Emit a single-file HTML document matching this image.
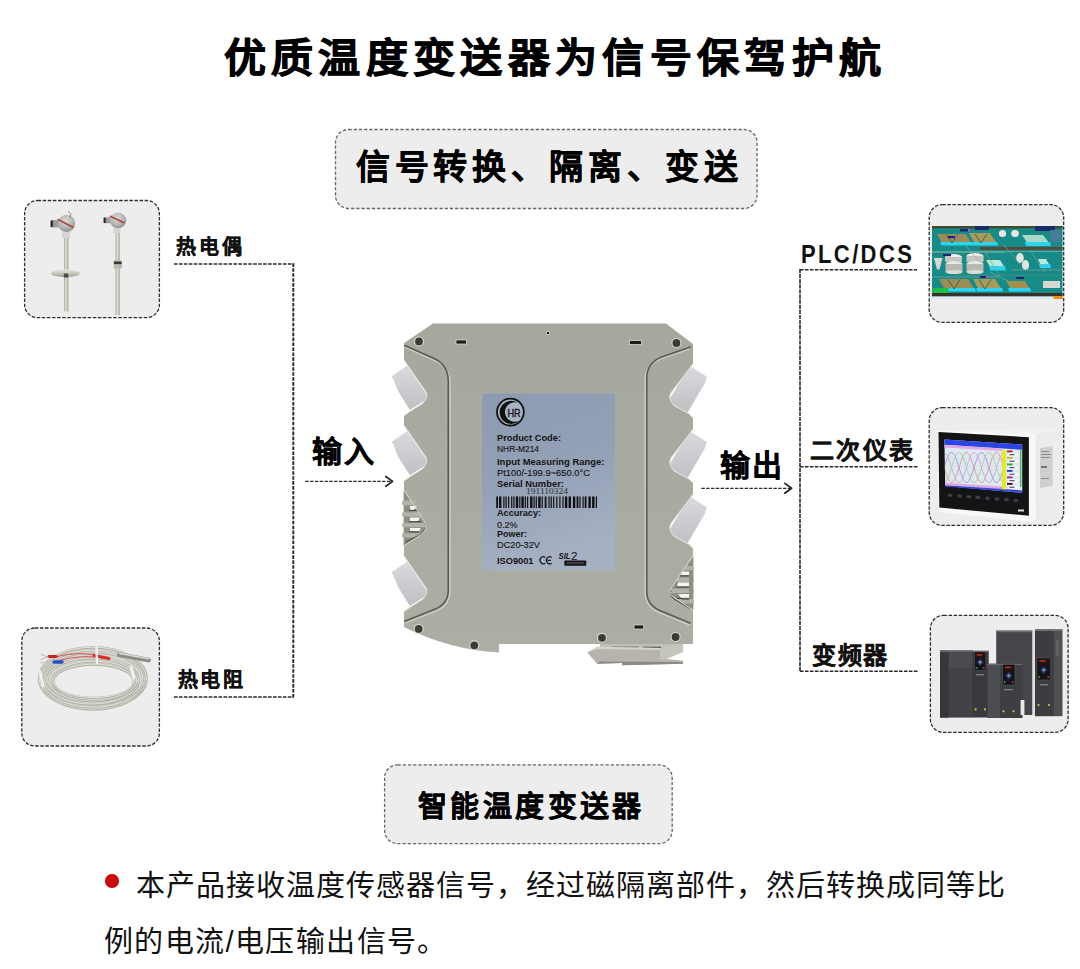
<!DOCTYPE html>
<html lang="zh-CN">
<head>
<meta charset="utf-8">
<style>
html,body{margin:0;padding:0;background:#fff;}
body{width:1080px;height:969px;position:relative;overflow:hidden;font-family:"Liberation Sans",sans-serif;color:#000;}
.t{position:absolute;white-space:nowrap;line-height:1;}
#g{position:absolute;left:0;top:0;}
.lb{font-size:20px;font-weight:700;letter-spacing:2.65px;color:#111;-webkit-text-stroke:0.3px #111;}
.lr{font-size:24px;font-weight:700;letter-spacing:1.7px;color:#111;-webkit-text-stroke:0.3px #111;}
</style>
</head>
<body>
<svg id="g" width="1080" height="969" viewBox="0 0 1080 969">
  <!-- BOXES -->
  <g fill="#ededed" stroke="#666" stroke-width="1.3" stroke-dasharray="3.2 2">
    <rect x="335.5" y="129.5" width="421.5" height="79" rx="13"/>
    <rect x="384.6" y="764.8" width="287.6" height="78.8" rx="13"/>
  </g>
  <g fill="#ededed" stroke="#2e2e2e" stroke-width="1.3" stroke-dasharray="3.5 1.6">
    <rect x="24.6" y="200.5" width="134.8" height="117.2" rx="13"/>
    <rect x="21.8" y="628" width="137.6" height="118" rx="13"/>
    <rect x="929.2" y="204.6" width="134.5" height="117.8" rx="13"/>
    <rect x="929.2" y="407.6" width="134.5" height="117.8" rx="13"/>
    <rect x="930.4" y="615.4" width="137.7" height="117" rx="13"/>
  </g>
  <defs>
    <linearGradient id="stem" x1="0" y1="0" x2="1" y2="0">
      <stop offset="0" stop-color="#a9a99b"/>
      <stop offset="0.45" stop-color="#e2e2d8"/>
      <stop offset="1" stop-color="#9e9e92"/>
    </linearGradient>
    <radialGradient id="head" cx="0.45" cy="0.35" r="0.7">
      <stop offset="0" stop-color="#d9dbdb"/>
      <stop offset="0.6" stop-color="#b3b5b5"/>
      <stop offset="1" stop-color="#8c8e8e"/>
    </radialGradient>
    <linearGradient id="flange" x1="0" y1="0" x2="0" y2="1">
      <stop offset="0" stop-color="#e4e4dc"/>
      <stop offset="0.55" stop-color="#c4c4ba"/>
      <stop offset="1" stop-color="#9c9c92"/>
    </linearGradient>
  </defs>
  <!-- THERMOCOUPLES -->
  <g id="tc">
    <rect x="64" y="236" width="4.4" height="75.5" fill="url(#stem)"/>
    <ellipse cx="65.5" cy="273.4" rx="14.5" ry="3.8" fill="url(#flange)"/>
    <rect x="63.8" y="273.5" width="4.4" height="4" fill="#4a4a44"/>
    <rect x="62" y="232" width="8.4" height="6" fill="#d6d6d2"/>
    <rect x="51" y="220" width="8" height="7.5" rx="1.5" fill="#9c9e9e"/>
    <rect x="50.6" y="220.5" width="2.2" height="6.5" fill="#222"/>
    <ellipse cx="66.5" cy="223.4" rx="8.6" ry="8.6" fill="url(#head)"/>
    <path d="M57.8 218.4 L73.8 226.8 L73.2 228.3 L57.3 220 Z" fill="#b53a35"/>
    <path d="M68 211 L71 214 L70 218" stroke="#9a8a70" stroke-width="1" fill="none"/>
    <rect x="115.5" y="232" width="4.2" height="83" fill="url(#stem)"/>
    <rect x="113.6" y="260.5" width="8.4" height="8" fill="#b9b9ae"/>
    <rect x="114" y="261.5" width="7.6" height="2.6" fill="#3a3a34"/>
    <rect x="113.3" y="227.5" width="7.3" height="5.5" fill="#d6d6d2"/>
    <rect x="103.8" y="217.3" width="8.2" height="6" rx="1.2" fill="#9c9e9e"/>
    <rect x="103.6" y="217.6" width="2" height="5.4" fill="#222"/>
    <ellipse cx="118.1" cy="220.5" rx="8.2" ry="7.8" fill="url(#head)"/>
    <path d="M110 215.3 L124.8 222.3 L124.3 223.7 L109.6 216.8 Z" fill="#b53a35"/>
  </g>
  <!-- RTD -->
  <g id="rtd" fill="none" stroke-linecap="round">
    <path fill="#d8d8d0" fill-rule="evenodd" d="M38.7 678.2 A54.8 32.2 0 1 0 148.3 678.2 A54.8 32.2 0 1 0 38.7 678.2 Z M53.4 681.5 A39.3 15.5 0 1 0 132 681.5 A39.3 15.5 0 1 0 53.4 681.5 Z"/>
    <ellipse cx="92.7" cy="678.5" rx="53.7" ry="31.0" stroke="#b3b3aa" stroke-width="2.3"/><ellipse cx="92.7" cy="678.1" rx="53.7" ry="31.0" stroke="#e9e9e4" stroke-width="0.9"/><ellipse cx="92.9" cy="679.1" rx="51.5" ry="28.6" stroke="#b3b3aa" stroke-width="2.3"/><ellipse cx="92.9" cy="678.7" rx="51.5" ry="28.6" stroke="#e9e9e4" stroke-width="0.9"/><ellipse cx="93.6" cy="678.5" rx="49.3" ry="26.2" stroke="#b3b3aa" stroke-width="2.3"/><ellipse cx="93.6" cy="678.1" rx="49.3" ry="26.2" stroke="#e9e9e4" stroke-width="0.9"/><ellipse cx="91.6" cy="680.5" rx="47.0" ry="23.9" stroke="#b3b3aa" stroke-width="2.3"/><ellipse cx="91.6" cy="680.1" rx="47.0" ry="23.9" stroke="#e9e9e4" stroke-width="0.9"/><ellipse cx="92.3" cy="679.8" rx="44.8" ry="21.5" stroke="#b3b3aa" stroke-width="2.3"/><ellipse cx="92.3" cy="679.4" rx="44.8" ry="21.5" stroke="#e9e9e4" stroke-width="0.9"/><ellipse cx="94.4" cy="680.7" rx="42.6" ry="19.1" stroke="#b3b3aa" stroke-width="2.3"/><ellipse cx="94.4" cy="680.3" rx="42.6" ry="19.1" stroke="#e9e9e4" stroke-width="0.9"/><ellipse cx="93.8" cy="681.2" rx="40.4" ry="16.7" stroke="#b3b3aa" stroke-width="2.3"/><ellipse cx="93.8" cy="680.8" rx="40.4" ry="16.7" stroke="#e9e9e4" stroke-width="0.9"/>
    <path d="M55 657 Q80 650 104 657" stroke="#d84a4a" stroke-width="0.9"/>
    <path d="M57 661 Q85 653 108 659" stroke="#d84a4a" stroke-width="0.9"/>
    <path d="M94 655.5 L109 658.5" stroke="#e02a2a" stroke-width="3"/>
    <path d="M119.5 654.6 L148.5 660" stroke="#8a8a84" stroke-width="4.8"/>
    <path d="M119.5 653.4 L148.5 658.8" stroke="#d8d8d0" stroke-width="1.6"/>
    <path d="M96.5 647 L97 663" stroke="#f0f0ec" stroke-width="2.4"/>
    <path d="M40 672 L43 686" stroke="#f0f0ec" stroke-width="3"/>
    <path d="M131 667 L134 678" stroke="#f0f0ec" stroke-width="3"/>
    <path d="M49 656.5 L56 656.5" stroke="#d41e1e" stroke-width="3.2"/>
    <path d="M54 662 L62 662" stroke="#2156c8" stroke-width="3.4"/>
    <path d="M41 654.5 L48 657 M41 659.5 L48 657" stroke="#b8b8b0" stroke-width="0.9"/>
    <path d="M40 663 L52 661" stroke="#bdbdb5" stroke-width="0.9"/>
  </g>
  <!-- PLC SCREEN -->
  <g id="plc">
    <rect x="932" y="226" width="130.5" height="73" fill="#168b87"/>
    <rect x="932" y="226" width="130.5" height="2.4" fill="#3f4a2a"/>
    <rect x="975" y="226" width="14" height="4" fill="#1a2a6a"/>
    <rect x="1035" y="226" width="20" height="5" fill="#1a2a6a"/>
    <!-- row1 -->
    <path d="M937 234 L966 234 L972 244.5 L943 244.5 Z" fill="#9b8d55"/>
    <path d="M940 242 L972 242 L973.5 245.5 L941.5 245.5 Z" fill="#2fd2f0"/>
    <path d="M969 233 L990 233 L997 244 L975 244 Z" fill="#a89a5a"/>
    <path d="M972 242 L997 242 L998.5 245.5 L973.5 245.5 Z" fill="#2fd2f0"/>
    <ellipse cx="1002.5" cy="233.5" rx="3.6" ry="3.6" fill="#e6e6e2"/>
    <ellipse cx="1015" cy="233.5" rx="3.8" ry="3.6" fill="#e6e6e2"/>
    <path d="M1022 235 L1043 235 L1050 244 L1028 244 Z" fill="#a9d9c8"/>
    <path d="M1025 242 L1050 242 L1051 246 L1026 246 Z" fill="#2fd2f0"/>
    <rect x="1050" y="230" width="10" height="12" fill="#4a7a9a"/>
    <rect x="980" y="247" width="82.5" height="2.8" fill="#5b4736"/>
    <rect x="932" y="251" width="130.5" height="1" fill="#5aa8a0"/>
    <!-- row2 -->
    <path d="M934 258 L942.5 258 L939.5 269.5 L937 269.5 Z" fill="#d8d8d4"/>
    <ellipse cx="953.5" cy="257" rx="8.5" ry="3" fill="#eeeeea"/>
    <rect x="945" y="257" width="17" height="5" fill="#c6c6c0"/>
    <ellipse cx="954" cy="264" rx="8.5" ry="3" fill="#e9e9e4"/>
    <rect x="945.5" y="264" width="17" height="8" fill="#b9b9b2"/>
    <ellipse cx="954" cy="272" rx="8.5" ry="2" fill="#dcdcd6"/>
    <ellipse cx="975" cy="256" rx="8.5" ry="3" fill="#eeeeea"/>
    <rect x="966.5" y="256" width="17" height="6" fill="#c6c6c0"/>
    <ellipse cx="975" cy="264" rx="8.5" ry="3" fill="#e9e9e4"/>
    <rect x="966.5" y="264" width="17" height="8" fill="#b9b9b2"/>
    <ellipse cx="975" cy="272" rx="8.5" ry="2" fill="#dcdcd6"/>
    <path d="M986 260 L1000 260 L1005 268 L991 268 Z" fill="#b8e8d8"/>
    <path d="M989 266 L1005 266 L1006 270.5 L990 270.5 Z" fill="#2fd2f0"/>
    <ellipse cx="1020" cy="258" rx="3.8" ry="5" fill="#e4e4de"/>
    <ellipse cx="1025.5" cy="265" rx="3.6" ry="5" fill="#e4e4de"/>
    <path d="M1038 259 L1046 259 L1050 266 L1041 266 Z" fill="#b8e8d8"/>
    <path d="M1039 264 L1050 264 L1051 268 L1040 268 Z" fill="#2fd2f0"/>
    <path d="M955 275 L1062 275" stroke="#3f8f7a" stroke-width="1"/>
    <!-- row3 -->
    <path d="M939 279 L968 279 L975 290 L945 290 Z" fill="#9b8d55"/>
    <path d="M941 288 L975 288 L976 291.5 L942 291.5 Z" fill="#2fd2f0"/>
    <path d="M973 279 L995 279 L1002 290 L979 290 Z" fill="#a89a5a"/>
    <path d="M976 288 L1002 288 L1003 291.5 L977 291.5 Z" fill="#2fd2f0"/>
    <path d="M1006 281 L1025 281 L1030 289 L1011 289 Z" fill="#a39048"/>
    <path d="M1008 288 L1030 288 L1031 291.5 L1009 291.5 Z" fill="#2fd2f0"/>
    <rect x="1043" y="281" width="17" height="7" fill="#d6d6d0"/>
    <g stroke="#7fa59a" stroke-width="0.7" fill="none">
      <path d="M932 252.5 H1005"/>
      <path d="M966 246 L980 262 M1003 244 L1020 264 M985 252 L1000 276 M1030 250 L1045 272 M990 272 L1008 281"/>
      <path d="M1012 270 H1062 M932 277 H1000"/>
    </g>
    <g stroke="#3a6a40" stroke-width="1" fill="none">
      <path d="M946 234.5 L952 243 L958 234.5 M975 234 L981 243 L987 234"/>
      <path d="M948 279.5 L954 289 L960 279.5 M979 279.5 L985 289 L991 279.5"/>
    </g>
    <g fill="#20207a">
      <rect x="960" y="229" width="8" height="2.5"/>
      <rect x="948" y="236" width="7" height="2.2"/>
      <rect x="943" y="254" width="8" height="2.2"/>
      <rect x="980" y="276" width="6" height="2"/>
      <rect x="1016" y="277" width="8" height="2"/>
    </g>
    <g fill="#9a66d8">
      <rect x="968" y="229" width="2" height="2.5"/>
      <rect x="955" y="236" width="2" height="2.2"/>
      <rect x="986" y="276" width="2" height="2"/>
    </g>
    <rect x="932.5" y="288" width="16" height="5" fill="#1dbd4a"/>
    <rect x="932" y="293" width="130.5" height="3.4" fill="#3a302a"/>
    <rect x="932" y="296.4" width="130.5" height="2.6" fill="#dfe8ee"/>
    <rect x="1053.5" y="296" width="9" height="3" fill="#f08a10"/>
  </g>
  <!-- RECORDER -->
  <g id="rec">
    <clipPath id="scr"><path d="M944.4 446 L1002 450 L1002 488 L945.2 484.5 Z"/></clipPath>
    <path d="M968.9 429.8 L1054.8 428.8 L1054.8 430.5 L1035.6 434.3 L937.8 430.5 Z" fill="#f2f2f0"/>
    <path d="M1035.6 434.3 L1054.8 430.5 L1054.8 505.4 L1035.6 522.4 Z" fill="#ececea"/>
    <path d="M1040 448 L1052.6 446.3 L1052.6 486 L1040 488 Z" fill="#cfcfcf"/>
    <g fill="#777"><rect x="1041" y="451" width="8" height="0.8"/><rect x="1041" y="454" width="10" height="0.8"/><rect x="1041" y="457" width="9" height="0.8"/><rect x="1041" y="466" width="6" height="2"/><rect x="1041" y="478" width="8" height="0.8"/></g>
    <path d="M937.8 430.5 L1035.6 434.3 L1035.6 522.4 L938.5 512 Z" fill="#f8f8f6"/>
    <path d="M938.5 432 L1028.9 437.2 L1028.9 515.7 L939.3 507.6 Z" fill="#131416"/>
    <path d="M944.4 439.4 L1022.2 444.6 L1022.2 492.8 L945.2 486.1 Z" fill="#dfe8ef"/>
    <path d="M944.4 439.4 L1022.2 444.6 L1022.2 449.8 L944.5 444.8 Z" fill="#2a44e6"/>
    <path d="M944.5 444.8 L1002 448.5 L1002 451 L944.5 447.4 Z" fill="#e2a6e6"/>
    <path d="M945.1 482.8 L1002 486.6 L1002 489.3 L945.1 485.3 Z" fill="#e2a6e6"/>
    <path d="M945.2 485.3 L1022.2 490.4 L1022.2 492.8 L945.2 486.6 Z" fill="#3048d0"/>
    <g clip-path="url(#scr)" fill="none" stroke-width="0.8">
      <path d="M944.0 467.5 L944.5 469.1 L945.0 470.6 L945.5 472.1 L946.0 473.6 L946.5 475.0 L947.0 476.3 L947.5 477.5 L948.0 478.6 L948.5 479.6 L949.0 480.5 L949.5 481.2 L950.0 481.8 L950.5 482.2 L951.0 482.4 L951.5 482.5 L952.0 482.4 L952.5 482.2 L953.0 481.8 L953.5 481.2 L954.0 480.5 L954.5 479.6 L955.0 478.6 L955.5 477.5 L956.0 476.3 L956.5 475.0 L957.0 473.6 L957.5 472.1 L958.0 470.6 L958.5 469.1 L959.0 467.5 L959.5 465.9 L960.0 464.4 L960.5 462.9 L961.0 461.4 L961.5 460.0 L962.0 458.7 L962.5 457.5 L963.0 456.4 L963.5 455.4 L964.0 454.5 L964.5 453.8 L965.0 453.2 L965.5 452.8 L966.0 452.6 L966.5 452.5 L967.0 452.6 L967.5 452.8 L968.0 453.2 L968.5 453.8 L969.0 454.5 L969.5 455.4 L970.0 456.4 L970.5 457.5 L971.0 458.7 L971.5 460.0 L972.0 461.4 L972.5 462.9 L973.0 464.4 L973.5 465.9 L974.0 467.5 L974.5 469.1 L975.0 470.6 L975.5 472.1 L976.0 473.6 L976.5 475.0 L977.0 476.3 L977.5 477.5 L978.0 478.6 L978.5 479.6 L979.0 480.5 L979.5 481.2 L980.0 481.8 L980.5 482.2 L981.0 482.4 L981.5 482.5 L982.0 482.4 L982.5 482.2 L983.0 481.8 L983.5 481.2 L984.0 480.5 L984.5 479.6 L985.0 478.6 L985.5 477.5 L986.0 476.3 L986.5 475.0 L987.0 473.6 L987.5 472.1 L988.0 470.6 L988.5 469.1 L989.0 467.5 L989.5 465.9 L990.0 464.4 L990.5 462.9 L991.0 461.4 L991.5 460.0 L992.0 458.7 L992.5 457.5 L993.0 456.4 L993.5 455.4 L994.0 454.5 L994.5 453.8 L995.0 453.2 L995.5 452.8 L996.0 452.6 L996.5 452.5 L997.0 452.6 L997.5 452.8 L998.0 453.2 L998.5 453.8 L999.0 454.5 L999.5 455.4 L1000.0 456.4 L1000.5 457.5 L1001.0 458.7 L1001.5 460.0 L1002.0 461.4 L1002.5 462.9 L1003.0 464.4 L1003.5 465.9 L1004.0 467.5" stroke="#d98a8a"/>
      <path d="M944.0 467.5 L944.5 465.9 L945.0 464.4 L945.5 462.9 L946.0 461.4 L946.5 460.0 L947.0 458.7 L947.5 457.5 L948.0 456.4 L948.5 455.4 L949.0 454.5 L949.5 453.8 L950.0 453.2 L950.5 452.8 L951.0 452.6 L951.5 452.5 L952.0 452.6 L952.5 452.8 L953.0 453.2 L953.5 453.8 L954.0 454.5 L954.5 455.4 L955.0 456.4 L955.5 457.5 L956.0 458.7 L956.5 460.0 L957.0 461.4 L957.5 462.9 L958.0 464.4 L958.5 465.9 L959.0 467.5 L959.5 469.1 L960.0 470.6 L960.5 472.1 L961.0 473.6 L961.5 475.0 L962.0 476.3 L962.5 477.5 L963.0 478.6 L963.5 479.6 L964.0 480.5 L964.5 481.2 L965.0 481.8 L965.5 482.2 L966.0 482.4 L966.5 482.5 L967.0 482.4 L967.5 482.2 L968.0 481.8 L968.5 481.2 L969.0 480.5 L969.5 479.6 L970.0 478.6 L970.5 477.5 L971.0 476.3 L971.5 475.0 L972.0 473.6 L972.5 472.1 L973.0 470.6 L973.5 469.1 L974.0 467.5 L974.5 465.9 L975.0 464.4 L975.5 462.9 L976.0 461.4 L976.5 460.0 L977.0 458.7 L977.5 457.5 L978.0 456.4 L978.5 455.4 L979.0 454.5 L979.5 453.8 L980.0 453.2 L980.5 452.8 L981.0 452.6 L981.5 452.5 L982.0 452.6 L982.5 452.8 L983.0 453.2 L983.5 453.8 L984.0 454.5 L984.5 455.4 L985.0 456.4 L985.5 457.5 L986.0 458.7 L986.5 460.0 L987.0 461.4 L987.5 462.9 L988.0 464.4 L988.5 465.9 L989.0 467.5 L989.5 469.1 L990.0 470.6 L990.5 472.1 L991.0 473.6 L991.5 475.0 L992.0 476.3 L992.5 477.5 L993.0 478.6 L993.5 479.6 L994.0 480.5 L994.5 481.2 L995.0 481.8 L995.5 482.2 L996.0 482.4 L996.5 482.5 L997.0 482.4 L997.5 482.2 L998.0 481.8 L998.5 481.2 L999.0 480.5 L999.5 479.6 L1000.0 478.6 L1000.5 477.5 L1001.0 476.3 L1001.5 475.0 L1002.0 473.6 L1002.5 472.1 L1003.0 470.6 L1003.5 469.1 L1004.0 467.5" stroke="#8a8ad9"/>
      <path d="M944.0 482.5 L944.5 482.4 L945.0 482.2 L945.5 481.8 L946.0 481.2 L946.5 480.5 L947.0 479.6 L947.5 478.6 L948.0 477.5 L948.5 476.3 L949.0 475.0 L949.5 473.6 L950.0 472.1 L950.5 470.6 L951.0 469.1 L951.5 467.5 L952.0 465.9 L952.5 464.4 L953.0 462.9 L953.5 461.4 L954.0 460.0 L954.5 458.7 L955.0 457.5 L955.5 456.4 L956.0 455.4 L956.5 454.5 L957.0 453.8 L957.5 453.2 L958.0 452.8 L958.5 452.6 L959.0 452.5 L959.5 452.6 L960.0 452.8 L960.5 453.2 L961.0 453.8 L961.5 454.5 L962.0 455.4 L962.5 456.4 L963.0 457.5 L963.5 458.7 L964.0 460.0 L964.5 461.4 L965.0 462.9 L965.5 464.4 L966.0 465.9 L966.5 467.5 L967.0 469.1 L967.5 470.6 L968.0 472.1 L968.5 473.6 L969.0 475.0 L969.5 476.3 L970.0 477.5 L970.5 478.6 L971.0 479.6 L971.5 480.5 L972.0 481.2 L972.5 481.8 L973.0 482.2 L973.5 482.4 L974.0 482.5 L974.5 482.4 L975.0 482.2 L975.5 481.8 L976.0 481.2 L976.5 480.5 L977.0 479.6 L977.5 478.6 L978.0 477.5 L978.5 476.3 L979.0 475.0 L979.5 473.6 L980.0 472.1 L980.5 470.6 L981.0 469.1 L981.5 467.5 L982.0 465.9 L982.5 464.4 L983.0 462.9 L983.5 461.4 L984.0 460.0 L984.5 458.7 L985.0 457.5 L985.5 456.4 L986.0 455.4 L986.5 454.5 L987.0 453.8 L987.5 453.2 L988.0 452.8 L988.5 452.6 L989.0 452.5 L989.5 452.6 L990.0 452.8 L990.5 453.2 L991.0 453.8 L991.5 454.5 L992.0 455.4 L992.5 456.4 L993.0 457.5 L993.5 458.7 L994.0 460.0 L994.5 461.4 L995.0 462.9 L995.5 464.4 L996.0 465.9 L996.5 467.5 L997.0 469.1 L997.5 470.6 L998.0 472.1 L998.5 473.6 L999.0 475.0 L999.5 476.3 L1000.0 477.5 L1000.5 478.6 L1001.0 479.6 L1001.5 480.5 L1002.0 481.2 L1002.5 481.8 L1003.0 482.2 L1003.5 482.4 L1004.0 482.5" stroke="#9ac89a"/>
      <path d="M944.0 452.5 L944.5 452.6 L945.0 452.8 L945.5 453.2 L946.0 453.8 L946.5 454.5 L947.0 455.4 L947.5 456.4 L948.0 457.5 L948.5 458.7 L949.0 460.0 L949.5 461.4 L950.0 462.9 L950.5 464.4 L951.0 465.9 L951.5 467.5 L952.0 469.1 L952.5 470.6 L953.0 472.1 L953.5 473.6 L954.0 475.0 L954.5 476.3 L955.0 477.5 L955.5 478.6 L956.0 479.6 L956.5 480.5 L957.0 481.2 L957.5 481.8 L958.0 482.2 L958.5 482.4 L959.0 482.5 L959.5 482.4 L960.0 482.2 L960.5 481.8 L961.0 481.2 L961.5 480.5 L962.0 479.6 L962.5 478.6 L963.0 477.5 L963.5 476.3 L964.0 475.0 L964.5 473.6 L965.0 472.1 L965.5 470.6 L966.0 469.1 L966.5 467.5 L967.0 465.9 L967.5 464.4 L968.0 462.9 L968.5 461.4 L969.0 460.0 L969.5 458.7 L970.0 457.5 L970.5 456.4 L971.0 455.4 L971.5 454.5 L972.0 453.8 L972.5 453.2 L973.0 452.8 L973.5 452.6 L974.0 452.5 L974.5 452.6 L975.0 452.8 L975.5 453.2 L976.0 453.8 L976.5 454.5 L977.0 455.4 L977.5 456.4 L978.0 457.5 L978.5 458.7 L979.0 460.0 L979.5 461.4 L980.0 462.9 L980.5 464.4 L981.0 465.9 L981.5 467.5 L982.0 469.1 L982.5 470.6 L983.0 472.1 L983.5 473.6 L984.0 475.0 L984.5 476.3 L985.0 477.5 L985.5 478.6 L986.0 479.6 L986.5 480.5 L987.0 481.2 L987.5 481.8 L988.0 482.2 L988.5 482.4 L989.0 482.5 L989.5 482.4 L990.0 482.2 L990.5 481.8 L991.0 481.2 L991.5 480.5 L992.0 479.6 L992.5 478.6 L993.0 477.5 L993.5 476.3 L994.0 475.0 L994.5 473.6 L995.0 472.1 L995.5 470.6 L996.0 469.1 L996.5 467.5 L997.0 465.9 L997.5 464.4 L998.0 462.9 L998.5 461.4 L999.0 460.0 L999.5 458.7 L1000.0 457.5 L1000.5 456.4 L1001.0 455.4 L1001.5 454.5 L1002.0 453.8 L1002.5 453.2 L1003.0 452.8 L1003.5 452.6 L1004.0 452.5" stroke="#c7a0c7"/>
      <path d="M944 458 H1002 M944 466 H1002 M944 474 H1002" stroke="#c8d0d8" stroke-width="0.5"/>
    </g>
    <path d="M1002 450 L1006 450.3 L1006 489.6 L1002 489.3 Z" fill="#e3ec20"/>
    <g>
      <rect x="1007" y="450.5" width="5.5" height="1.8" fill="#b02020"/>
      <rect x="1007" y="457" width="5.5" height="1.8" fill="#c0c020"/>
      <rect x="1007" y="463.5" width="5.5" height="1.8" fill="#20b020"/>
      <rect x="1007" y="470" width="5.5" height="1.8" fill="#2030c0"/>
      <rect x="1007" y="476.5" width="5.5" height="1.8" fill="#a020a0"/>
      <rect x="1007" y="483" width="5.5" height="1.8" fill="#401010"/>
      <rect x="1008.5" y="453.0" width="9.5" height="3.4" fill="#f4f6f8"/><rect x="1009.5" y="454.2" width="5" height="1" fill="#335"/><rect x="1008.5" y="459.5" width="9.5" height="3.4" fill="#f4f6f8"/><rect x="1009.5" y="460.7" width="5" height="1" fill="#335"/><rect x="1008.5" y="466.0" width="9.5" height="3.4" fill="#f4f6f8"/><rect x="1009.5" y="467.2" width="5" height="1" fill="#335"/><rect x="1008.5" y="472.5" width="9.5" height="3.4" fill="#f4f6f8"/><rect x="1009.5" y="473.7" width="5" height="1" fill="#335"/><rect x="1008.5" y="479.0" width="9.5" height="3.4" fill="#f4f6f8"/><rect x="1009.5" y="480.2" width="5" height="1" fill="#335"/><rect x="1008.5" y="485.5" width="9.5" height="3.4" fill="#f4f6f8"/><rect x="1009.5" y="486.7" width="5" height="1" fill="#335"/><rect x="1020" y="450" width="1.4" height="37" fill="#40c060"/>
    </g>
    <g fill="#3c3d40">
      <ellipse cx="950" cy="495.3" rx="2.6" ry="1.8"/>
      <ellipse cx="959.5" cy="496" rx="2.6" ry="1.8"/>
      <ellipse cx="968.8" cy="496.7" rx="2.6" ry="1.8"/>
      <ellipse cx="978" cy="497.4" rx="2.6" ry="1.8"/>
      <ellipse cx="987.5" cy="498.2" rx="2.6" ry="1.8"/>
      <ellipse cx="997" cy="499" rx="2.6" ry="1.8"/>
      <ellipse cx="1006.5" cy="499.7" rx="2.6" ry="1.8"/>
      <ellipse cx="1016" cy="500.5" rx="2.6" ry="1.8"/>
    </g>
    <rect x="1018" y="509.5" width="6" height="2" fill="#dddddd"/>
  </g>
  <!-- INVERTERS -->
  <g id="inv">
    <rect x="996.2" y="630.6" width="36.3" height="84.4" fill="#45464a"/>
    <rect x="996.2" y="630.6" width="36.3" height="1.6" fill="#6e6f73"/>
    <rect x="1032.5" y="630.6" width="2.5" height="84.4" fill="#e0e0e0"/>
    <rect x="1035" y="629.4" width="19" height="86.8" fill="#3c3d41"/>
    <rect x="1053.8" y="629.4" width="8.7" height="86.8" fill="#4e4f53"/>
    <rect x="1035" y="629.4" width="27.5" height="1.6" fill="#6e6f73"/>
    <rect x="1056" y="640" width="3" height="16" fill="#5e5f63"/>
    <rect x="1036.9" y="658" width="13.7" height="22" rx="1.3" fill="#151517" stroke="#5a5b5f" stroke-width="0.6"/>
    <rect x="1038.4" y="659.5" width="10.7" height="4.8" fill="#2a1214"/>
    <rect x="1039.4" y="660.3" width="6.2" height="1.4" fill="#d03030"/>
    <path d="M1043.8 666.4 L1047.0 670.1 L1043.8 673.8 L1040.5 670.1 Z" fill="#2a4aa0"/>
    <circle cx="1043.8" cy="670.1" r="1.1" fill="#c8a050"/>
    <circle cx="1039.1" cy="676.9" r="1" fill="#30a040"/>
    <circle cx="1048.4" cy="676.9" r="1" fill="#c03030"/>
    
    <circle cx="1038.5" cy="705" r="1.1" fill="#d8c830"/>
    <circle cx="1049" cy="705" r="1.1" fill="#d8c830"/>
    <rect x="1040" y="684" width="8" height="1.5" fill="#7a7b7f"/>
    <rect x="940" y="650.6" width="33" height="67" fill="#424347"/>
    <rect x="940" y="650.6" width="8.7" height="67" fill="#36373a"/>
    <rect x="948.7" y="650.6" width="24" height="17.5" fill="#4a4b4f"/>
    <rect x="972.5" y="651.5" width="16.2" height="66" fill="#38393c"/>
    <rect x="940" y="650.6" width="48.7" height="1.5" fill="#66676b"/>
    <rect x="974.4" y="651.9" width="11.4" height="18.7" rx="1.3" fill="#151517" stroke="#5a5b5f" stroke-width="0.6"/>
    <rect x="975.9" y="653.4" width="8.4" height="4.1" fill="#2a1214"/>
    <rect x="976.9" y="654.2" width="5.1" height="1.4" fill="#d03030"/>
    <path d="M980.1 659.0 L983.3 662.2 L980.1 665.4 L976.9 662.2 Z" fill="#2a4aa0"/>
    <circle cx="980.1" cy="662.2" r="1.1" fill="#c8a050"/>
    <circle cx="976.6" cy="668.0" r="1" fill="#30a040"/>
    <circle cx="983.6" cy="668.0" r="1" fill="#c03030"/>
    
    <circle cx="975.6" cy="709.4" r="1.1" fill="#d8c830"/>
    <circle cx="985" cy="709.4" r="1.1" fill="#d8c830"/>
    <rect x="976" y="674" width="8" height="1.4" fill="#7a7b7f"/>
    <rect x="987.5" y="663.8" width="35" height="54.2" fill="#3e3f43"/>
    <rect x="987.5" y="663.8" width="12.5" height="54.2" fill="#4c4d51"/>
    <rect x="987.5" y="663.8" width="35" height="1.4" fill="#6a6b6f"/>
    <rect x="1002.5" y="664.4" width="12.5" height="20.6" rx="1.3" fill="#151517" stroke="#5a5b5f" stroke-width="0.6"/>
    <rect x="1004.0" y="665.9" width="9.5" height="4.5" fill="#2a1214"/>
    <rect x="1005.0" y="666.7" width="5.6" height="1.4" fill="#d03030"/>
    <path d="M1008.8 672.2 L1012.0 675.7 L1008.8 679.2 L1005.5 675.7 Z" fill="#2a4aa0"/>
    <circle cx="1008.8" cy="675.7" r="1.1" fill="#c8a050"/>
    <circle cx="1004.7" cy="682.1" r="1" fill="#30a040"/>
    <circle cx="1012.8" cy="682.1" r="1" fill="#c03030"/>
    
    <circle cx="1003.5" cy="711.3" r="1.1" fill="#d8c830"/>
    <circle cx="1013.5" cy="711.3" r="1.1" fill="#d8c830"/>
    <rect x="1004" y="689" width="9" height="1.4" fill="#7a7b7f"/>
    <rect x="1020.6" y="700" width="3.8" height="15" fill="#e8e8e8"/>
  </g>
  <!-- CONNECTOR LINES -->
  <g fill="none" stroke="#2a2828" stroke-width="1.5" stroke-dasharray="3.6 1.35">
    <path d="M174 264 H293.3"/>
    <path d="M174 697.1 H293.3"/>

    <path d="M800 269.8 H917"/>
    <path d="M800 466.8 H918.8"/>
    <path d="M800 671.2 H918.8"/>
  </g>
  <g fill="none" stroke="#2a2828" stroke-width="1.9" stroke-dasharray="3.6 1.35">
    <path d="M293.3 263.3 V697.8"/>
  </g>
  <path d="M305.3 481.4 H391 M701.4 488.3 H790" fill="none" stroke="#2a2828" stroke-width="1.3" stroke-dasharray="3.4 1.4"/>
  <path d="M800 269 V672" fill="none" stroke="#2a2828" stroke-width="1.6" stroke-dasharray="4.2 0.9"/>
  <g fill="none" stroke="#222" stroke-width="1.7" stroke-linecap="round" stroke-linejoin="round">
    <path d="M385.8 476.5 L392.6 481.4 L385.8 486.3"/>
    <path d="M784.8 483.4 L791.6 488.3 L784.8 493.2"/>
  </g>
  <defs>
    <linearGradient id="term" x1="0" y1="0" x2="0" y2="1">
      <stop offset="0" stop-color="#dadade"/>
      <stop offset="1" stop-color="#c0c0c4"/>
    </linearGradient>
    <linearGradient id="lbl" x1="0" y1="0" x2="0.25" y2="1">
      <stop offset="0" stop-color="#8d9bb2"/>
      <stop offset="0.5" stop-color="#93a0b6"/>
      <stop offset="1" stop-color="#a6b0c3"/>
    </linearGradient>
    <linearGradient id="bodyg" x1="0" y1="0" x2="0" y2="1">
      <stop offset="0" stop-color="#a5a99d"/>
      <stop offset="1" stop-color="#abaea3"/>
    </linearGradient>
  </defs>
  <!-- DEVICE -->
  <g id="device">
    <!-- terminals right k=0,1,2 -->
    <g fill="url(#term)">
      <path d="M689.6 365.7 L707 376.7 L704.5 383.7 L687.5 412.7 L668 401.7 Z"/>
      <path d="M689.6 431.0 L707 442.0 L704.5 449.0 L687.5 478.0 L668 467.0 Z"/>
      <path d="M689.6 496.3 L707 507.3 L704.5 514.3 L687.5 543.3 L668 532.3 Z"/>
    </g>
    <!-- terminals left k=0,1,3 -->
    <g fill="url(#term)">
      <path d="M407.3 365.6 L391.2 376.7 L393 378.5 L398.3 391.6 L409.8 410.0 L429 398.0 Z"/>
      <path d="M407.3 430.9 L391.2 442.0 L393 443.8 L398.3 456.9 L409.8 475.3 L429 463.3 Z"/>
      <path d="M407.3 561.5 L391.2 572.6 L393 574.4 L398.3 587.5 L409.8 605.9 L429 593.9 Z"/>
    </g>
    <!-- rail clip -->
    <path d="M600 643 L683 643 L683 651.5 L600 651.5 Z" fill="#bfc1b4"/>
    <rect x="612" y="646.7" width="26.5" height="3.7" fill="#55564e"/>
    <rect x="643" y="646.7" width="18" height="3.7" fill="#55564e"/>
    <path d="M587.4 652.6 L597 646.7 L662 648.1 L662 658.5 L683 660.7 L683 663.7 L622 665.2 L622 663 L597 663.7 Z" fill="#b8b3ad"/>
    <path d="M587.4 652.6 L597 646.7 L662 648.1 L662 650 L597 649 Z" fill="#d6d2cc"/>
    <path d="M597 663.7 L622 663 L622 665.2 L683 663.7 L683 662 L600 661.5 Z" fill="#8d8984"/>
    <path d="M660 648 L683 643 L683 652 L664 660 L660 659 Z" fill="#c4c5bb"/>
    <!-- body -->
    <path fill="url(#bodyg)" d="M433 323.5 L666 323.5 L693 344 L693 363.7 L671 392.7 Q667.5 398.7 674 405.7 L689 413.7 L693 418.0 L693 429.0 L671 458.0 Q667.5 464.0 674 471.0 L689 479.0 L693 483.3 L693 494.3 L671 523.3 Q667.5 529.3 674 536.3 L689 544.3 L693 548.6 L693 555.7 L672 587 Q668 592 672 596 L693 610.2 L693 644 L499 644 L499 652.5 Q450 650 404 627 L404 611.6 L410 607.3 L422.5 599.4 Q429 592.9 426 587.9 L404 555.9 L404 546 L423 533 Q428 527 424 521 L404 490 L404 481.0 L410 476.7 L422.5 468.8 Q429 462.3 426 457.3 L404 425.3 L404 415.7 L410 411.4 L422.5 403.5 Q429 397.0 426 392.0 L404 360.0 L404 343 Z"/>
    <path fill="none" stroke="#e2e2d6" stroke-width="1" d="M693 363.7 L671 392.7 Q667.5 398.7 674 405.7 L689 413.7 L693 418.0 M693 429.0 L671 458.0 Q667.5 464.0 674 471.0 L689 479.0 L693 483.3 M693 494.3 L671 523.3 Q667.5 529.3 674 536.3 L689 544.3 L693 548.6 M404 415.7 L410 411.4 L422.5 403.5 Q429 397.0 426 392.0 L404 360.0 M404 481.0 L410 476.7 L422.5 468.8 Q429 462.3 426 457.3 L404 425.3 M404 611.6 L410 607.3 L422.5 599.4 Q429 592.9 426 587.9 L404 555.9 "/>
    <!-- vents -->
    <path d="M403.6 490 L424 521 Q428 527 423 533 L403.6 546 Z" fill="#8d8e84"/>
    <g fill="#b0b3a7">
      <rect x="402" y="500.6" width="14" height="4.6" rx="1.5"/>
      <rect x="402" y="512.2" width="21" height="4.6" rx="1.5"/>
      <rect x="402" y="523" width="25" height="4.2" rx="1.5"/>
      <rect x="402" y="533.2" width="19" height="4.4" rx="1.5"/>
    </g>
    <g fill="#f4f4f0">
      <path d="M410 506 L417 506 L414 510 L410 510Z"/>
      <path d="M410 517.5 L420 517.5 L418 521.5 L410 521.5Z"/>
      <path d="M410 528 L421 528 L419 531.5 L410 531.5Z"/>
    </g>
    <g stroke="#2f2f2a" stroke-width="0.9" fill="none">
      <path d="M409 510.3 H418"/>
      <path d="M409 521.7 H421"/>
      <path d="M409 531.8 H419"/>
      <path d="M406 542 L422 533.5 Q427 528 425 523"/>
    </g>
    <path d="M404 490 L424 521 Q428 527 423 533 L404 546" fill="none" stroke="#d8d8cc" stroke-width="0.9"/>
    <path d="M693.4 555.7 L672 587 Q668 592 672 596 L693.4 610.2 Z" fill="#8d8e84"/>
    <g fill="#b0b3a7">
      <rect x="684" y="566" width="10" height="4.2" rx="1.5"/>
      <rect x="677" y="577.5" width="17" height="4.4" rx="1.5"/>
      <rect x="670" y="588.5" width="24" height="4.4" rx="1.5"/>
      <rect x="674" y="599.2" width="20" height="4.4" rx="1.5"/>
    </g>
    <g fill="#f4f4f0">
      <path d="M682 571.5 L689 571.5 L689 575.5 L681 575.5Z"/>
      <path d="M678 582.6 L689 582.6 L689 586.5 L677 586.5Z"/>
      <path d="M678 594 L689 594 L689 597.8 L681 597.8Z"/>
    </g>
    <g stroke="#2f2f2a" stroke-width="0.9" fill="none">
      <path d="M680 575.8 H689"/>
      <path d="M676 587 H689"/>
      <path d="M677 598 Q681 598 683 599 H689"/>
      <path d="M671 590 Q669 595 674 599 L690 608.5"/>
    </g>
    <g fill="#8f9083"><rect x="689" y="570" width="4" height="29"/></g>
    <path d="M693 555.7 L672 587 Q668 592 672 596 L693 610.2" fill="none" stroke="#d8d8cc" stroke-width="0.9"/>
    <!-- inner panel lines -->
    <g fill="none" stroke-linecap="round">
      <path d="M405.5 347.5 L433 360 Q450 366.5 450 382 L450 590 Q450 605.5 436.5 611 L405.5 623" stroke="#d4d5cb" stroke-width="1.2"/>
      <path d="M404.8 345.5 L433 358 Q448.3 364.5 448.3 381 L448.3 590 Q448.3 604 434.5 609.3 L404.8 621.3" stroke="#5c5d54" stroke-width="1.6"/>
      <path d="M689.5 349 L661 359 Q645.1 365 645.1 379 L645.1 592 Q645.1 606.5 659 612.5 L689 624.8" stroke="#d4d5cb" stroke-width="1.2"/>
      <path d="M690.5 347 L661.5 357 Q646.8 363 646.8 378 L646.8 592 Q646.8 605 660.5 610.8 L690 623" stroke="#5c5d54" stroke-width="1.6"/>
    </g>
    <!-- holes -->
    <g><circle cx="419" cy="341.4" r="5" fill="#d9dad0"/><circle cx="419" cy="341.4" r="3.9" fill="#3c3c34"/><circle cx="676.4" cy="343" r="5" fill="#d9dad0"/><circle cx="676.4" cy="343" r="3.9" fill="#3c3c34"/><circle cx="418.7" cy="628.9" r="5" fill="#d9dad0"/><circle cx="418.7" cy="628.9" r="3.9" fill="#3c3c34"/><circle cx="474.3" cy="645.3" r="5" fill="#d9dad0"/><circle cx="474.3" cy="645.3" r="3.9" fill="#3c3c34"/><circle cx="602" cy="637.8" r="5" fill="#d9dad0"/><circle cx="602" cy="637.8" r="3.9" fill="#3c3c34"/><circle cx="675.6" cy="637" r="5" fill="#d9dad0"/><circle cx="675.6" cy="637" r="3.9" fill="#3c3c34"/></g>
    <g fill="#1c1c1a" stroke="#d6d7ce" stroke-width="0.8">
      <rect x="456" y="340" width="10.5" height="4"/>
      <rect x="629.5" y="340.6" width="12" height="4"/>
      <rect x="634" y="625" width="9.7" height="4"/>
      <rect x="546.5" y="331.5" width="3" height="3"/>
    </g>
    <!-- label -->
    <rect x="482" y="393.5" width="133" height="177" rx="3.5" fill="url(#lbl)"/>
    <!-- logo -->
    <circle cx="510.4" cy="412.1" r="13.4" fill="#a9b5c7" stroke="#111" stroke-width="1.8"/>
    <path d="M517.5 402.6 A11.6 11.6 0 1 0 519.2 420.8 A9.81 9.81 0 1 1 517.5 402.6 Z" fill="#111"/>
    <text x="507.4" y="417.3" font-family="Liberation Sans" font-size="11" fill="#111" stroke="#111" stroke-width="0.35" textLength="13.2" lengthAdjust="spacingAndGlyphs">HR</text>
    <g font-family="Liberation Sans" fill="#141414">
      <text x="497" y="440.6" font-size="9.6" font-weight="700" textLength="64" lengthAdjust="spacingAndGlyphs">Product Code:</text>
      <text x="497" y="451.6" font-size="9.2" stroke="#141414" stroke-width="0.12" textLength="42" lengthAdjust="spacingAndGlyphs">NHR-M214</text>
      <text x="497" y="465" font-size="9.6" font-weight="700" textLength="107.4" lengthAdjust="spacingAndGlyphs">Input Measuring Range:</text>
      <text x="497" y="475.6" font-size="9.2" stroke="#141414" stroke-width="0.12" textLength="93" lengthAdjust="spacingAndGlyphs">Pt100/-199.9~650.0°C</text>
      <text x="497" y="487.3" font-size="9.6" font-weight="700" textLength="67" lengthAdjust="spacingAndGlyphs">Serial Number:</text>
      <text x="526" y="494.4" font-size="8" font-family="Liberation Serif" fill="#333" textLength="42" lengthAdjust="spacingAndGlyphs">191110324</text>
      <text x="497" y="515.8" font-size="9.6" font-weight="700" textLength="44" lengthAdjust="spacingAndGlyphs">Accuracy:</text>
      <text x="497" y="527.5" font-size="9.2" stroke="#141414" stroke-width="0.12" textLength="20.6" lengthAdjust="spacingAndGlyphs">0.2%</text>
      <text x="497" y="536.6" font-size="9.6" font-weight="700" textLength="30" lengthAdjust="spacingAndGlyphs">Power:</text>
      <text x="497" y="548.2" font-size="9.2" stroke="#141414" stroke-width="0.12" textLength="43" lengthAdjust="spacingAndGlyphs">DC20-32V</text>
      <text x="497" y="563.8" font-size="9.8" font-weight="700" textLength="36.5" lengthAdjust="spacingAndGlyphs">ISO9001</text>
      
      <text x="558.5" y="559.3" font-size="8.5" font-weight="700" font-style="italic" textLength="12" lengthAdjust="spacingAndGlyphs">SIL</text><text x="571" y="559.5" font-size="10.5" textLength="6.5" lengthAdjust="spacingAndGlyphs">2</text>
    </g>
    <rect x="564.3" y="560.6" width="22" height="5.1" rx="0.8" fill="#151515"/>
    <rect x="566.5" y="562.4" width="17.5" height="1.2" fill="#5a5a5a"/>
    <g fill="none" stroke="#141414" stroke-width="1.2">
      <path d="M545.2 557.4 A3.3 3.5 0 1 0 545.2 563.2"/>
      <path d="M551.6 557.4 A3.3 3.5 0 1 0 551.6 563.2 M547.6 560.3 H550.8"/>
    </g>
    <path id="barcode" fill="#111" d="M496.2 496.4h1.8v11.6h-1.8zM499.0 496.4h2.4v11.6h-2.4zM503.3 496.4h1.2v11.6h-1.2zM505.5 496.4h1.2v11.6h-1.2zM508.0 496.4h1.2v11.6h-1.2zM511.1 496.4h1.2v11.6h-1.2zM513.3 496.4h1.2v11.6h-1.2zM515.8 496.4h2.4v11.6h-2.4zM519.2 496.4h1.2v11.6h-1.2zM521.4 496.4h2.4v11.6h-2.4zM524.8 496.4h1.2v11.6h-1.2zM527.0 496.4h1.2v11.6h-1.2zM530.1 496.4h2.4v11.6h-2.4zM533.5 496.4h1.2v11.6h-1.2zM535.7 496.4h1.2v11.6h-1.2zM538.2 496.4h2.4v11.6h-2.4zM541.6 496.4h1.2v11.6h-1.2zM544.7 496.4h1.8v11.6h-1.8zM548.4 496.4h1.2v11.6h-1.2zM550.6 496.4h1.2v11.6h-1.2zM553.1 496.4h1.2v11.6h-1.2zM556.2 496.4h1.2v11.6h-1.2zM559.3 496.4h1.2v11.6h-1.2zM562.4 496.4h1.2v11.6h-1.2zM564.9 496.4h2.4v11.6h-2.4zM568.6 496.4h2.4v11.6h-2.4zM572.9 496.4h2.4v11.6h-2.4zM576.6 496.4h1.8v11.6h-1.8zM579.4 496.4h1.2v11.6h-1.2zM582.5 496.4h1.2v11.6h-1.2zM584.7 496.4h1.8v11.6h-1.8zM588.4 496.4h2.4v11.6h-2.4zM592.1 496.4h2.4v11.6h-2.4zM595.8 496.4h1.2v11.6h-1.2z"/>
  </g>
</svg>
<div class="t" id="title" style="left:223.5px;top:38.5px;font-size:42px;font-weight:700;letter-spacing:5.35px;-webkit-text-stroke:0.9px #000;transform:scaleY(0.955);transform-origin:0 0;">优质温度变送器为信号保驾护航</div>
<div class="t" id="sub1" style="left:356px;top:150.3px;font-size:34px;font-weight:700;letter-spacing:4.65px;-webkit-text-stroke:0.4px #000;">信号转换、隔离、变送</div>
<div class="t lb" id="l1" style="left:176.3px;top:237.3px;">热电偶</div>
<div class="t lb" id="l2" style="left:177.6px;top:669.8px;">热电阻</div>
<div class="t" id="in" style="left:312px;top:437px;font-size:30px;font-weight:700;letter-spacing:2px;-webkit-text-stroke:0.35px #000;">输入</div>
<div class="t" id="out" style="left:720px;top:451px;font-size:30px;font-weight:700;letter-spacing:2px;-webkit-text-stroke:0.35px #000;">输出</div>
<div class="t" id="plctext" style="left:801px;top:242px;font-size:25px;font-weight:700;letter-spacing:2.7px;color:#111;transform:scaleX(0.88);transform-origin:0 0;">PLC/DCS</div>
<div class="t lr" id="r2" style="left:810px;top:438.5px;letter-spacing:2.3px;">二次仪表</div>
<div class="t lr" id="r3" style="left:812px;top:644px;">变频器</div>
<div class="t" id="sub2" style="left:418px;top:792.5px;font-size:29px;font-weight:700;letter-spacing:3.4px;-webkit-text-stroke:0.3px #000;">智能温度变送器</div>
<div style="position:absolute;left:105.4px;top:874px;width:13.5px;height:13.5px;border-radius:50%;background:#cc0a0a;"></div>
<div class="t" id="p1" style="left:135.5px;top:871.5px;font-size:29px;letter-spacing:1px;color:#111;">本产品接收温度传感器信号，经过磁隔离部件，然后转换成同等比</div>
<div class="t" id="p2" style="left:104px;top:927.5px;font-size:29px;letter-spacing:1.4px;color:#111;">例的电流/电压输出信号。</div>
</body>
</html>
